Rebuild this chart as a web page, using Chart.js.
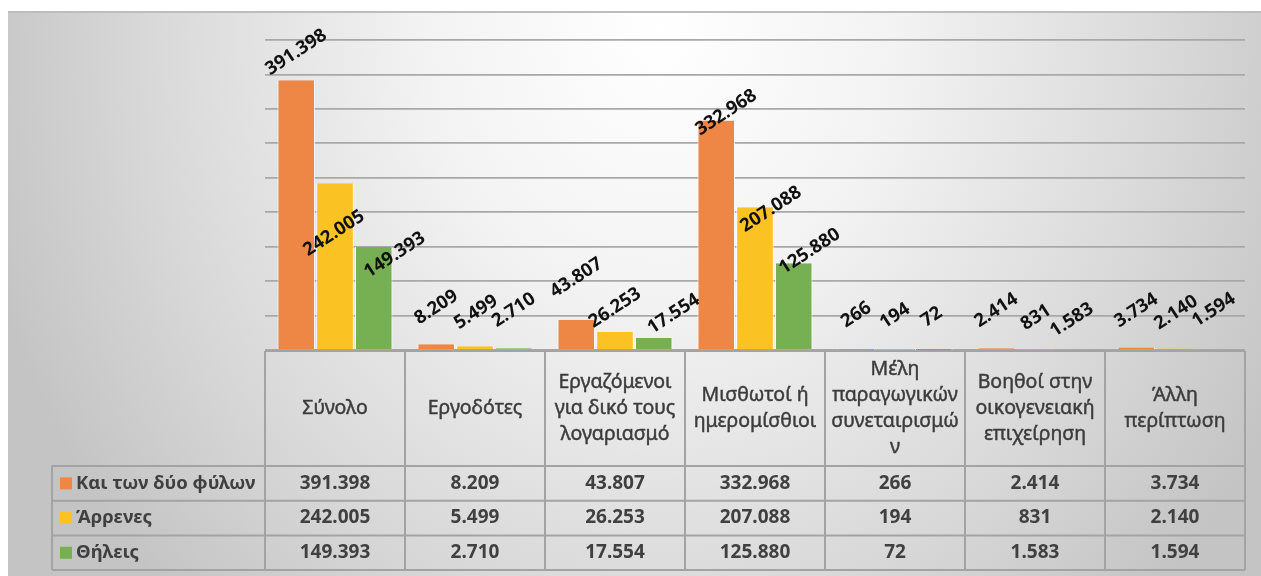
<!DOCTYPE html>
<html lang="el">
<head>
<meta charset="UTF-8">
<title>Απασχολούμενοι κατά θέση στο επάγγελμα και φύλο</title>
<script src="https://cdn.jsdelivr.net/npm/chart.js@4.4.1/dist/chart.umd.min.js"></script>
<style>
  html, body { margin: 0; padding: 0; background: #fff; overflow: hidden; }
  #frame {
    position: absolute; left: 8px; top: 11px; width: 1253px; height: 563px;
    border-top: 2px solid #bdbdbd;
    background: radial-gradient(ellipse 56% 140% at 52% 4%, #ffffff 0%, #f3f3f3 33%, #d9d9d9 72%, #c4c4c4 100%);
  }
  #chart { position: absolute; left: 0; top: 0; }
</style>
</head>
<body>
<div id="frame"></div>
<canvas id="chart" width="1261" height="576"></canvas>
<script>
// categories (header lines of the data table)
const categories = [
  ['Σύνολο'],
  ['Εργοδότες'],
  ['Εργαζόμενοι', 'για δικό τους', 'λογαριασμό'],
  ['Μισθωτοί ή', 'ημερομίσθιοι'],
  ['Μέλη', 'παραγωγικών', 'συνεταιρισμώ', 'ν'],
  ['Βοηθοί στην', 'οικογενειακή', 'επιχείρηση'],
  ['Άλλη', 'περίπτωση']
];
const seriesNames = ['Και των δύο φύλων', 'Άρρενες', 'Θήλεις'];
const bothSexes = [391398, 8209, 43807, 332968, 266, 2414, 3734];
const males     = [242005, 5499, 26253, 207088, 194, 831, 2140];
const females   = [149393, 2710, 17554, 125880, 72, 1583, 1594];
const yMax = 450000, yStep = 50000;

const colors = ['#ee8746', '#fbc224', '#77b052'];

// where each value label sits relative to the top centre of its bar (dx, dy)
const labelShift = [
  [[0, -28], [0, -37], [0, -42], [10, -8], [0, -35], [0, -38], [0, -37]],
  [[-1, 50], [1, -34], [0, -24], [16, 2], [0, -34], [1, -32], [1, -36]],
  [[21, 8], [0, -38], [20, -24], [16, -12], [-2, -33], [-2, -29], [0, -39]]
];

const FONT = '"Noto Sans", "DejaVu Sans", sans-serif';
const fmt = v => String(v).replace(/\B(?=(\d{3})+(?!\d))/g, '.');

const barLabels = {
  id: 'barLabels',
  afterDatasetsDraw(chart) {
    const ctx = chart.ctx;
    ctx.save();
    ctx.font = 'bold 18.5px ' + FONT;
    ctx.fillStyle = '#111111';
    ctx.textAlign = 'center';
    ctx.textBaseline = 'middle';
    chart.data.datasets.forEach((ds, di) => {
      chart.getDatasetMeta(di).data.forEach((bar, i) => {
        const [dx, dy] = labelShift[di][i];
        ctx.save();
        ctx.translate(bar.x + dx, bar.y + dy);
        ctx.rotate(-33 * Math.PI / 180);
        ctx.fillText(fmt(ds.data[i]), 0, 0);
        ctx.restore();
      });
    });
    ctx.restore();
  }
};

// data table under the plot, columns follow the category scale
const dataTable = {
  id: 'dataTable',
  afterDraw(chart) {
    const { ctx, chartArea: a, scales: { x } } = chart;
    const n = categories.length;
    const half = (a.right - a.left) / n / 2;
    const top = a.bottom + 1;
    const headBottom = 466;
    const rowH = 34.7;
    const bottom = headBottom + rowH * seriesNames.length;
    const labelLeft = 52;

    ctx.save();
    ctx.strokeStyle = '#a3a3a3';
    ctx.lineWidth = 2;
    ctx.beginPath();
    ctx.moveTo(a.left, top); ctx.lineTo(a.right, top);
    ctx.moveTo(labelLeft, headBottom); ctx.lineTo(a.right, headBottom);
    for (let r = 1; r <= seriesNames.length; r++) {
      ctx.moveTo(labelLeft, headBottom + r * rowH); ctx.lineTo(a.right, headBottom + r * rowH);
    }
    ctx.moveTo(labelLeft, headBottom); ctx.lineTo(labelLeft, bottom);
    for (let i = 0; i <= n; i++) {
      const cx = i < n ? x.getPixelForValue(i) - half : x.getPixelForValue(n - 1) + half;
      ctx.moveTo(cx, top); ctx.lineTo(cx, bottom);
    }
    ctx.stroke();

    // header: regular weight, thickened a little with a thin stroke
    ctx.fillStyle = '#3c3c3c';
    ctx.strokeStyle = '#3c3c3c';
    ctx.lineWidth = 0.45;
    ctx.textAlign = 'center';
    ctx.textBaseline = 'middle';
    ctx.font = '19.5px ' + FONT;
    const lineH = 26;
    const headMid = (top + headBottom) / 2;
    categories.forEach((lines, i) => {
      const cx = x.getPixelForValue(i);
      const y0 = headMid - (lines.length - 1) * lineH / 2;
      lines.forEach((t, k) => {
        ctx.fillText(t, cx, y0 + k * lineH);
        ctx.strokeText(t, cx, y0 + k * lineH);
      });
    });

    // rows
    chart.data.datasets.forEach((ds, r) => {
      const cy = headBottom + rowH * (r + 0.5);
      ctx.fillStyle = colors[r];
      ctx.fillRect(60, cy - 6, 12, 12);
      ctx.fillStyle = '#404040';
      ctx.font = 'bold 18.5px ' + FONT;
      ctx.textAlign = 'left';
      ctx.fillText(seriesNames[r], 76, cy);
      ctx.font = 'bold 19px ' + FONT;
      ctx.textAlign = 'center';
      ds.data.forEach((v, i) => ctx.fillText(fmt(v), x.getPixelForValue(i), cy));
    });
    ctx.restore();
  }
};

new Chart(document.getElementById('chart'), {
  type: 'bar',
  data: {
    labels: categories,
    datasets: seriesNames.map((name, i) => ({
      label: name,
      data: [bothSexes, males, females][i],
      backgroundColor: colors[i],
      borderColor: 'rgba(255,255,255,0.85)',
      borderWidth: { left: 1, right: 1, top: 0, bottom: 0 },
      borderSkipped: false,
      categoryPercentage: 0.83,
      barPercentage: 0.97
    }))
  },
  options: {
    responsive: false,
    animation: false,
    events: [],
    layout: { padding: { left: 265, right: 16, top: 40, bottom: 226 } },
    plugins: { legend: { display: false }, tooltip: { enabled: false } },
    scales: {
      x: {
        grid: { display: false },
        ticks: { display: false },
        border: { display: false },
        afterFit: s => { s.height = 0; }
      },
      y: {
        min: 0, max: yMax,
        ticks: { stepSize: yStep, display: false },
        grid: { color: '#a8a8a8', lineWidth: 1.8, drawTicks: false },
        border: { display: false },
        afterFit: s => { s.width = 0; }
      }
    }
  },
  plugins: [barLabels, dataTable]
});
</script>
</body>
</html>
